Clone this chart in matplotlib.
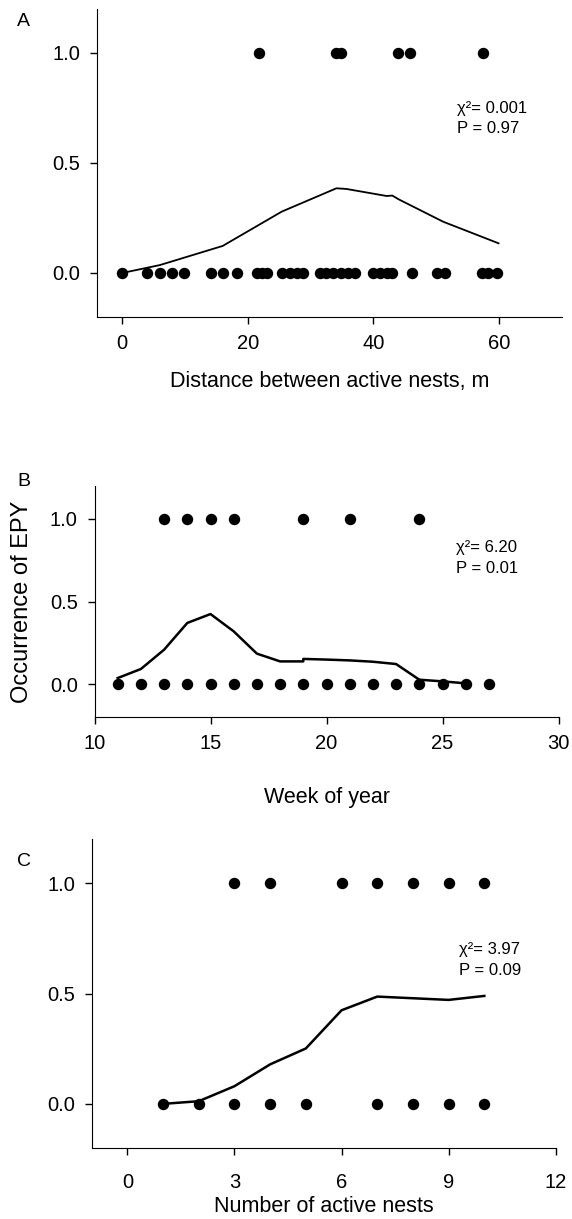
import numpy as np
from matplotlib import pyplot as plt

plt.rcParams['font.family'] = ['Liberation Sans', 'DejaVu Sans']

# panel A - distance between active nests
dist_0 = [0, 4, 6, 8, 9.9, 14.2, 16, 18.2, 21.4, 22.2, 23, 25.5, 26.7, 27.8, 28.8,
          31.5, 32.5, 33.6, 34.9, 36, 37.1, 40, 41, 42.1, 42.9, 46.1, 50.1, 51.4,
          57.2, 58.3, 59.7]
dist_1 = [21.8, 34.1, 34.8, 43.9, 45.8, 57.5]
dist_fit_x = [0, 6, 16, 25.4, 34.1, 35.7, 42.1, 43.0, 44.0, 51.1, 59.9]
dist_fit_y = [0.0, 0.036, 0.123, 0.279, 0.385, 0.382, 0.35, 0.352, 0.335, 0.233, 0.135]

# panel B - week of year
week_0 = [11, 12, 13, 14, 15, 16, 17, 18, 19, 20, 21, 22, 23, 24, 25, 26, 27]
week_1 = [13, 14, 15, 16, 19, 21, 24]
week_fit_x = [11, 12, 13, 14, 15, 16, 17, 18, 19, 19, 20, 21, 22, 23, 24, 25, 26]
week_fit_y = [0.036, 0.091, 0.208, 0.37, 0.424, 0.319, 0.184, 0.137, 0.137, 0.152,
              0.148, 0.143, 0.135, 0.121, 0.026, 0.016, 0.004]

# panel C - number of active nests
nests_0 = [1, 2, 3, 4, 5, 7, 8, 9, 10]
nests_1 = [3, 4, 6, 7, 8, 9, 10]
nests_fit_x = [1, 2, 3, 4, 5, 6, 7, 9, 10]
nests_fit_y = [0.0, 0.012, 0.08, 0.179, 0.251, 0.424, 0.486, 0.471, 0.489]

stats = [('χ²= 0.001', 'P = 0.97'), ('χ²= 6.20', 'P = 0.01'), ('χ²= 3.97', 'P = 0.09')]

W, H = 572, 1219
fig = plt.figure(figsize=(W / 100, H / 100), dpi=100)


def px_axes(left, right, top, bottom):
    # pixel box -> figure fraction
    return fig.add_axes([left / W, 1 - bottom / H, (right - left) / W, (bottom - top) / H])


axA = px_axes(97, 562, 9, 317)
axB = px_axes(94.5, 558.5, 486, 717)
axC = px_axes(91.7, 555.7, 839, 1148)

# ax, zeros, ones, fit x, fit y, xlim, xticks, xlabel, line width,
# text pos (x, y of chi line, y step), tick pad, label pad
panels = [
    (axA, dist_0, dist_1, dist_fit_x, dist_fit_y, (-4, 70), [0, 20, 40, 60],
     'Distance between active nests, m', 1.3, (53.3, 0.75, 0.095), 7, 13),
    (axB, week_0, week_1, week_fit_x, week_fit_y, (10, 30), [10, 15, 20, 25, 30],
     'Week of year', 1.8, (25.6, 0.83, 0.13), 7, 25),
    (axC, nests_0, nests_1, nests_fit_x, nests_fit_y, (-1, 12), [0, 3, 6, 9, 12],
     'Number of active nests', 1.8, (9.3, 0.70, 0.097), 13, 3),
]

for i, (ax, x0, x1, fx, fy, xl, xt, xlab, lw, tpos, tpad, lpad) in enumerate(panels):
    ax.plot(fx, fy, color='black', lw=lw, zorder=2)
    ax.plot(x0, np.zeros(len(x0)), 'o', color='black', ms=7.2, zorder=3)
    ax.plot(x1, np.ones(len(x1)), 'o', color='black', ms=7.2, zorder=3)
    ax.set_xlim(xl)
    ax.set_ylim(-0.2, 1.2)
    ax.set_xticks(xt)
    ax.set_yticks([0, 0.5, 1.0])
    ax.set_yticklabels(['0.0', '0.5', '1.0'])
    ax.spines['top'].set_visible(False)
    ax.spines['right'].set_visible(False)
    ax.tick_params(direction='out', length=5, width=1, labelsize=14.5, pad=7)
    ax.tick_params(axis='x', pad=tpad)
    ax.set_xlabel(xlab, fontsize=15.5, labelpad=lpad)
    ax.text(tpos[0], tpos[1], stats[i][0], fontsize=12, va='center')
    ax.text(tpos[0], tpos[1] - tpos[2], stats[i][1], fontsize=12, va='center')

axB.set_ylabel('Occurrence of EPY', fontsize=17, labelpad=12)

# panel letters
for letter, ypx in [('A', 22), ('B', 482), ('C', 862)]:
    fig.text(17 / W, 1 - ypx / H, letter, fontsize=14, va='center')

plt.savefig('out.png', dpi=100)
